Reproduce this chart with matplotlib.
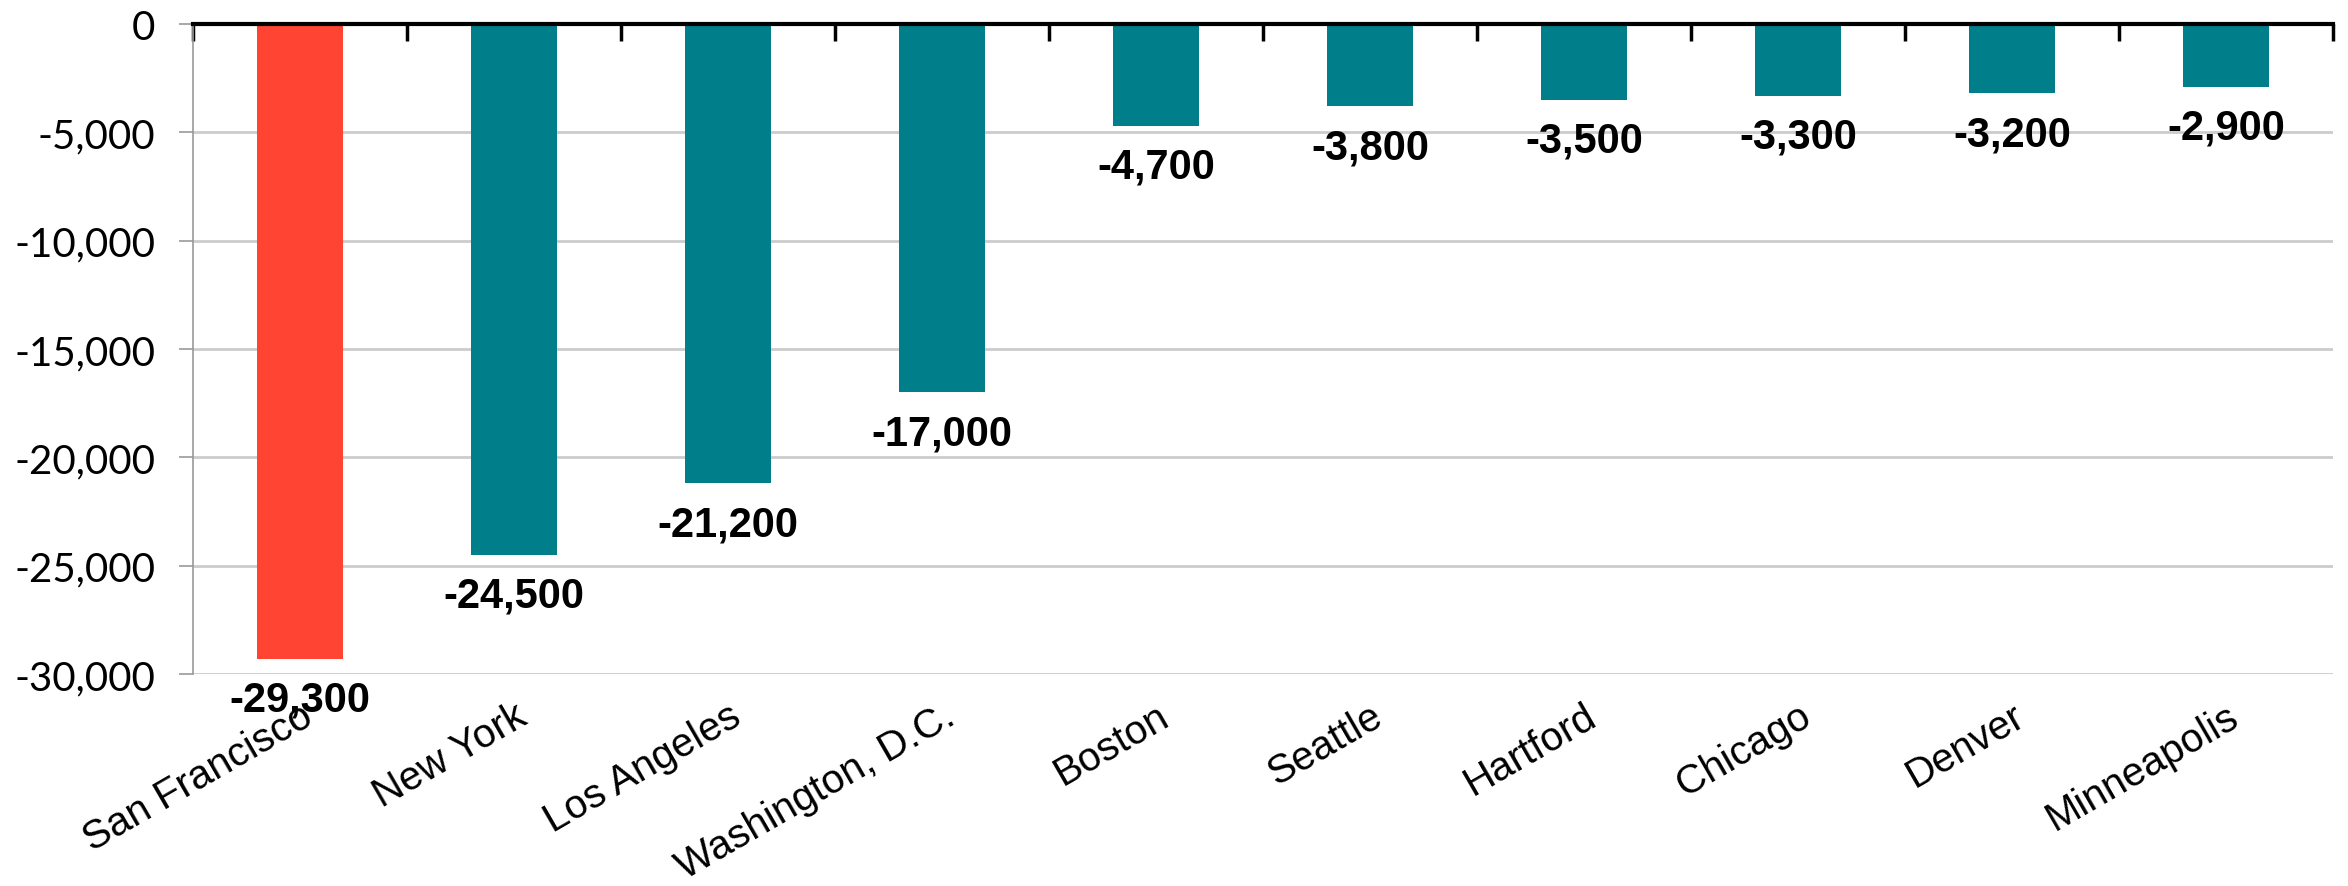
import numpy as np
import matplotlib
matplotlib.use('Agg')
import matplotlib.pyplot as plt
from matplotlib.ticker import FixedLocator, FuncFormatter

# dados
cidades = ['San Francisco', 'New York', 'Los Angeles', 'Washington, D.C.', 'Boston',
           'Seattle', 'Hartford', 'Chicago', 'Denver', 'Minneapolis']
variacao = [-29300, -24500, -21200, -17000, -4700, -3800, -3500, -3300, -3200, -2900]
cor_destaque = '#FF4433'
cor_padrao = '#007E8A'
cores = [cor_destaque] + [cor_padrao] * (len(cidades) - 1)
ticks_y = [0, -5000, -10000, -15000, -20000, -25000, -30000]

plt.rcParams['font.family'] = ['Lato', 'DejaVu Sans']

fig = plt.figure(figsize=(23.48, 8.87), dpi=100)
ax = fig.add_axes([0.0822, 0.239, 0.9114, 0.7328])

x = np.arange(len(cidades))
ax.bar(x, variacao, width=0.4, color=cores, zorder=3)

# rótulos das barras
for xi, v in zip(x, variacao):
    ax.annotate(f'{v:,}', (xi, v), xytext=(0, -15), textcoords='offset points',
                ha='center', va='top', fontsize=30, fontweight='bold',
                family=['Liberation Sans', 'DejaVu Sans'], color='black', zorder=4)

ax.set_xlim(-0.5, len(cidades) - 0.5)
ax.set_ylim(-30000, 0)

ax.set_yticks(ticks_y)
ax.yaxis.set_major_formatter(FuncFormatter(lambda v, p: f'{int(v):,}'))
ax.tick_params(axis='y', labelsize=29, labelcolor='black', length=10, width=1.2,
               color='#999999', pad=17)

ax.set_xticks(x)
ax.set_xticklabels(cidades, rotation=30, ha='right', rotation_mode='anchor',
                   fontsize=29, color='black', family=['Liberation Sans', 'DejaVu Sans'])
ax.tick_params(axis='x', which='major', length=0, pad=16)

# marcas nas divisões das categorias, no eixo do zero
ax.xaxis.set_minor_locator(FixedLocator(np.arange(-0.5, len(cidades), 1.0)))
ax.tick_params(axis='x', which='minor', top=True, bottom=False, direction='in',
               length=12, width=2.5, color='black')

ax.grid(axis='y', color='#cccccc', linewidth=2, zorder=0)
ax.set_axisbelow(True)

ax.spines['top'].set_color('black')
ax.spines['top'].set_linewidth(3)
ax.spines['top'].set_zorder(5)
ax.spines['left'].set_color('#999999')
ax.spines['left'].set_linewidth(1.2)
ax.spines['right'].set_visible(False)
ax.spines['bottom'].set_visible(False)

fig.savefig('out.png', dpi=100)
